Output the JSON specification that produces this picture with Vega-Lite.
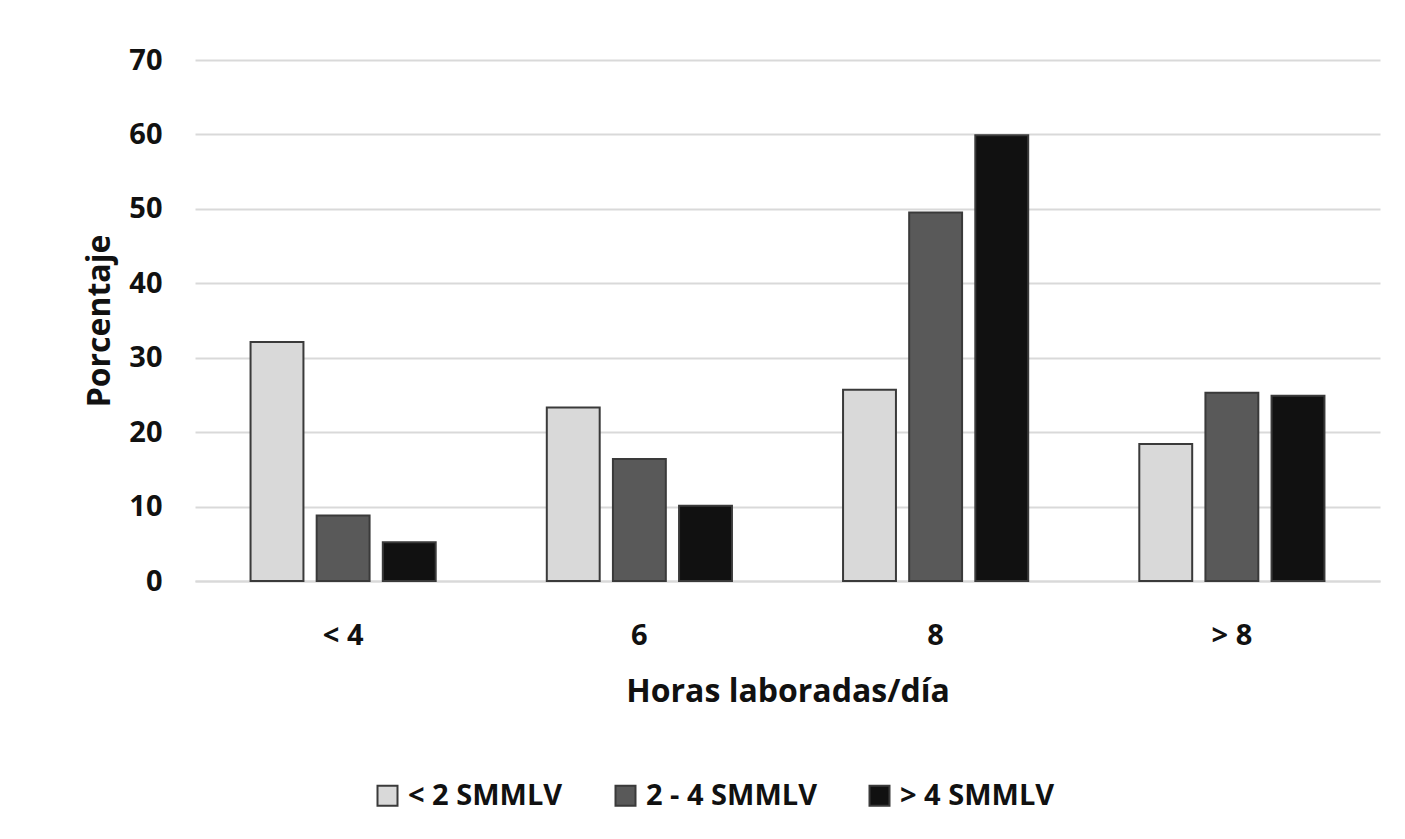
{
  "$schema": "https://vega.github.io/schema/vega-lite/v6.json",
  "width": 1185,
  "height": 521,
  "autosize": {"type": "none"},
  "padding": {"left": 195, "top": 60, "right": 25, "bottom": 258},
  "background": "white",
  "data": {"values": [
    {"horas": "< 4", "ingreso": "< 2 SMMLV", "pct": 32.1},
    {"horas": "< 4", "ingreso": "2 - 4 SMMLV", "pct": 8.8},
    {"horas": "< 4", "ingreso": "> 4 SMMLV", "pct": 5.2},
    {"horas": "6", "ingreso": "< 2 SMMLV", "pct": 23.3},
    {"horas": "6", "ingreso": "2 - 4 SMMLV", "pct": 16.4},
    {"horas": "6", "ingreso": "> 4 SMMLV", "pct": 10.1},
    {"horas": "8", "ingreso": "< 2 SMMLV", "pct": 25.7},
    {"horas": "8", "ingreso": "2 - 4 SMMLV", "pct": 49.5},
    {"horas": "8", "ingreso": "> 4 SMMLV", "pct": 59.9},
    {"horas": "> 8", "ingreso": "< 2 SMMLV", "pct": 18.4},
    {"horas": "> 8", "ingreso": "2 - 4 SMMLV", "pct": 25.3},
    {"horas": "> 8", "ingreso": "> 4 SMMLV", "pct": 24.9}
  ]},
  "mark": {"type": "bar", "stroke": "#3a3a3a", "strokeWidth": 2},
  "encoding": {
    "x": {
      "field": "horas", "type": "nominal", "sort": ["< 4", "6", "8", "> 8"],
      "scale": {"paddingInner": 0.375, "paddingOuter": 0.1875},
      "axis": {"title": "Horas laboradas/día", "labelAngle": 0, "labelFont": "Open Sans", "labelFontWeight": "bold", "labelFontSize": 29, "labelColor": "#111", "labelPadding": 40, "ticks": false, "domainColor": "#d9d9d9", "domainWidth": 2, "titleFont": "Open Sans", "titleFontWeight": "bold", "titleFontSize": 32, "titleColor": "#111", "titlePadding": 26}
    },
    "xOffset": {"field": "ingreso", "type": "nominal", "sort": ["< 2 SMMLV", "2 - 4 SMMLV", "> 4 SMMLV"], "scale": {"paddingInner": 0.2}},
    "y": {
      "field": "pct", "type": "quantitative",
      "scale": {"domain": [0, 70]},
      "axis": {"title": "Porcentaje", "values": [0, 10, 20, 30, 40, 50, 60, 70], "labelFont": "Open Sans", "labelFontWeight": "bold", "labelFontSize": 29, "labelColor": "#111", "labelPadding": 33, "ticks": false, "domain": false, "gridColor": "#d9d9d9", "gridWidth": 2, "titleFont": "Open Sans", "titleFontWeight": "bold", "titleFontSize": 32, "titleColor": "#111", "titlePadding": 12}
    },
    "color": {
      "field": "ingreso", "type": "nominal", "sort": ["< 2 SMMLV", "2 - 4 SMMLV", "> 4 SMMLV"],
      "scale": {"domain": ["< 2 SMMLV", "2 - 4 SMMLV", "> 4 SMMLV"], "range": ["#d9d9d9", "#595959", "#111111"]},
      "legend": {"title": null, "orient": "none", "direction": "horizontal", "legendX": 178, "legendY": 721, "symbolType": "square", "symbolSize": 400, "symbolStrokeColor": "#3a3a3a", "symbolStrokeWidth": 2, "labelFont": "Open Sans", "labelFontWeight": "bold", "labelFontSize": 29, "labelColor": "#111", "labelLimit": 500, "columnPadding": 48, "labelOffset": 6}
    }
  },
  "config": {"view": {"stroke": null}}
}
